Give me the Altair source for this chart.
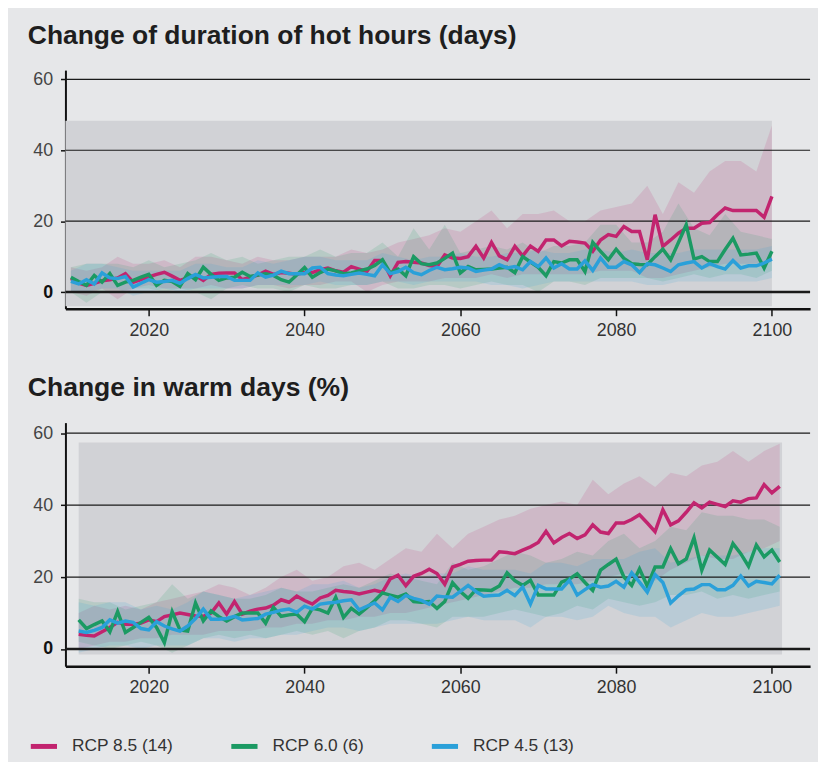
import altair as alt
import pandas as pd

FONT = "Liberation Sans"
SERIES = ["RCP 8.5 (14)", "RCP 6.0 (6)", "RCP 4.5 (13)"]
COLORS = ["#c2246f", "#1b9a63", "#2aa0d9"]

# ---------- Chart 1: change of duration of hot hours (days), years 2010-2100 ----------
hot_start = 2010
hot_rcp85 = [3.8, 2.5, 1.9, 2.5, 3.2, 3.5, 4.0, 5.2, 2.8, 3.5,
             4.3, 5.0, 5.6, 4.5, 3.3, 4.0, 4.7, 3.3, 5.0, 5.3,
             5.4, 5.4, 3.5, 4.2, 4.8, 5.9, 5.0, 5.5, 5.3, 5.0,
             5.5, 5.5, 6.3, 6.8, 6.0, 5.6, 7.2, 6.5, 5.8, 8.9,
             8.9, 4.6, 8.4, 8.6, 8.4, 8.2, 7.5, 7.2, 10.5, 9.6,
             9.5, 10.0, 12.9, 9.6, 14.0, 10.2, 9.1, 12.9, 10.2, 13.0,
             11.5, 14.7, 14.7, 13.0, 14.3, 14.1, 13.8, 11.5, 14.7, 16.2,
             15.7, 18.5, 17.1, 17.1, 9.1, 21.8, 12.9, 14.7, 16.6, 18.0,
             18.0, 19.4, 19.6, 21.8, 23.7, 23.0, 23.0, 23.0, 23.0, 21.1,
             27.0]
hot_rcp60 = [4.2, 3.0, 1.9, 4.7, 2.8, 5.2, 1.9, 2.8, 3.3, 4.2,
             5.0, 1.9, 3.3, 3.0, 1.6, 5.2, 3.5, 7.0, 5.0, 3.3,
             4.0, 4.2, 5.6, 4.4, 4.8, 5.2, 4.7, 3.5, 2.8, 4.8,
             6.9, 4.2, 5.5, 6.5, 6.0, 5.2, 5.4, 6.0, 6.5, 7.5,
             9.1, 5.4, 6.5, 4.6, 10.0, 8.0, 7.7, 8.2, 9.5, 11.0,
             5.4, 7.2, 6.3, 6.4, 6.5, 6.8, 7.0, 5.5, 10.0, 8.5,
             7.0, 4.6, 8.6, 8.2, 9.1, 9.1, 5.8, 14.0, 11.5, 9.1,
             12.1, 9.5, 8.0, 7.8, 7.7, 10.0, 12.1, 9.1, 14.0, 19.0,
             9.3, 10.0, 8.6, 8.6, 12.0, 15.2, 10.5, 10.7, 11.0, 6.8,
             11.5]
hot_rcp45 = [3.0, 2.3, 3.5, 2.3, 5.4, 4.0, 3.8, 4.4, 1.4, 2.5,
             3.5, 2.8, 3.0, 3.3, 2.5, 3.8, 5.0, 4.0, 4.2, 4.4,
             4.4, 3.3, 3.3, 3.3, 5.4, 4.2, 4.8, 5.9, 5.2, 5.2,
             5.2, 6.8, 7.0, 5.2, 4.8, 4.6, 5.0, 5.4, 5.0, 4.6,
             7.7, 5.2, 5.8, 7.0, 5.5, 4.9, 6.1, 7.0, 6.3, 6.6,
             7.0, 6.8, 5.8, 6.2, 6.5, 7.7, 6.8, 7.2, 6.3, 8.6,
             7.2, 9.6, 6.8, 8.0, 6.5, 6.5, 8.8, 6.1, 9.6, 7.0,
             7.0, 8.6, 7.7, 5.5, 8.0, 7.7, 6.8, 5.8, 7.7, 8.2,
             8.6, 6.8, 8.0, 7.2, 6.5, 8.9, 6.8, 7.4, 7.4, 8.2,
             9.3]
# model range bands, every second year from 2010
hot_band_start = 2010
hot_rcp85_lo = [0, -1, 1, -2, 1, 2, 1, 1, 1, 2, 1, 1, 2, 2, 1, 2, 2, 3, 3, 0, 2, 3, 3,
                3, 4, 4, 4, 5, 4, 5, 5, 5, 5, 5, 6, 6, 6, 4, 4, 5, 6, 7, 8, 8, 8, 9]
hot_rcp85_hi = [7, 6, 7, 10, 8, 8, 9, 7, 10, 10, 9, 8, 10, 9, 9, 10, 10, 10, 12, 11, 12, 14, 15,
                16, 18, 17, 20, 23, 18, 22, 22, 23, 20, 20, 23, 24, 25, 30, 22, 31, 28, 34, 37, 37, 34, 47]
hot_rcp60_lo = [0, -3, 0, 0, 1, 1, 0, 1, 0, -2, 1, 2, 1, 1, 0, 2, 1, 1, 2, 2, 3, 1, 1,
                2, 2, 1, 2, 3, 2, 2, 0, 3, 3, 2, 4, 4, 4, 4, 3, 4, 5, 4, 5, 5, 4, 6]
hot_rcp60_hi = [7, 8, 8, 8, 7, 9, 7, 8, 9, 11, 9, 10, 8, 9, 10, 10, 12, 10, 11, 11, 14, 10, 18,
                12, 19, 11, 12, 13, 12, 14, 11, 13, 13, 14, 19, 19, 14, 14, 17, 25, 18, 16, 22, 17, 16, 15]
hot_rcp45_lo = [0, 0, 1, 1, -1, 0, 1, 0, 1, 1, 1, 1, 2, 2, 2, 2, 3, 2, 2, 2, 3, 3, 2,
                3, 3, 3, 3, 2, 2, 1, 2, 3, 3, 3, 3, 3, 3, 2, 2, 3, 3, 3, 3, 3, 3, 4]
hot_rcp45_hi = [6, 8, 8, 7, 6, 6, 6, 6, 8, 8, 7, 7, 9, 8, 9, 10, 10, 9, 9, 9, 11, 10, 9,
                10, 10, 11, 10, 10, 11, 11, 12, 11, 11, 12, 12, 11, 12, 11, 11, 11, 12, 12, 12, 12, 12, 13]
hot_range = {"x1": [2009.3], "x2": [2100.0], "y1": [-4.0], "y2": [48.3]}

# ---------- Chart 2: change in warm days (%), years 2011-2101 ----------
warm_start = 2011
warm_rcp85 = [4.1, 3.8, 3.6, 4.8, 6.0, 7.4, 6.9, 6.9, 7.2,
              8.1, 7.6, 9.0, 9.5, 10.0, 9.6, 9.2, 9.1, 10.0, 12.8,
              9.7, 13.2, 9.7, 10.5, 11.1, 11.4, 12.2, 13.7, 13.0, 14.7,
              13.5, 12.5, 14.2, 14.9, 16.3, 16.0, 15.8, 15.3, 15.8, 16.3,
              15.8, 19.5, 20.5, 17.6, 20.2, 21.0, 22.2, 21.0, 18.0, 22.8,
              23.5, 24.4, 24.6, 24.7, 24.7, 27.0, 26.8, 26.5, 27.5, 28.4,
              29.6, 32.7, 29.5, 31.0, 32.1, 30.7, 31.7, 34.5, 32.5, 32.1,
              35.0, 35.0, 36.0, 37.3, 35.0, 32.6, 38.7, 34.5, 35.6, 38.0,
              40.6, 39.2, 40.8, 40.2, 39.6, 41.2, 40.8, 41.8, 42.0, 45.7,
              43.4, 45.2]
warm_rcp60 = [8.1, 5.7, 6.8, 7.8, 4.8, 10.4, 4.6, 6.0, 7.4,
              8.8, 6.0, 1.8, 10.4, 5.3, 5.0, 12.8, 7.8, 10.6, 9.0,
              7.8, 9.0, 10.0, 10.0, 10.0, 7.2, 11.6, 9.1, 9.5, 9.7,
              7.6, 11.3, 10.9, 10.0, 14.4, 8.8, 11.3, 9.7, 11.5, 13.4,
              15.6, 15.0, 14.4, 15.3, 13.2, 13.0, 13.2, 11.3, 13.2, 18.4,
              16.0, 14.1, 16.5, 16.4, 16.3, 17.5, 21.2, 19.0, 17.7, 19.1,
              15.0, 15.0, 15.0, 18.6, 19.5, 20.9, 18.5, 16.3, 21.9, 23.5,
              25.0, 20.0, 17.7, 22.3, 17.5, 22.8, 22.8, 27.9, 23.7, 25.0,
              30.9, 21.9, 27.5, 25.5, 23.5, 29.3, 26.5, 23.0, 28.9, 25.6,
              27.5, 24.2]
warm_rcp45 = [5.0, 4.6, 5.2, 6.0, 8.1, 7.2, 7.8, 7.4, 5.7,
              5.3, 7.6, 6.4, 5.6, 5.0, 6.4, 8.5, 11.1, 8.3, 8.3,
              8.5, 9.1, 8.1, 8.3, 8.5, 9.7, 10.2, 10.8, 11.1, 10.2,
              11.9, 11.1, 12.5, 12.8, 13.0, 13.4, 13.7, 10.9, 11.9, 12.8,
              10.9, 14.4, 13.2, 14.9, 14.1, 13.5, 12.5, 14.7, 14.5, 14.4,
              16.0, 17.7, 16.0, 14.7, 14.9, 15.0, 16.3, 14.9, 17.2, 12.5,
              17.7, 16.7, 16.7, 16.7, 19.1, 15.0, 16.5, 17.9, 17.2, 17.5,
              18.8, 17.2, 21.2, 18.6, 15.8, 20.7, 18.5, 12.8, 14.8, 16.5,
              16.7, 17.9, 17.9, 16.5, 16.5, 17.7, 20.3, 17.5, 18.8, 18.5,
              18.1, 20.5]
warm_band_start = 2011
warm_rcp85_lo = [0, 1, 2, 2, 3, 3, 4, 4, 4, 5, 5, 5, 6, 6, 7, 7, 8, 8, 9, 9, 10, 10, 11,
                 12, 13, 14, 15, 16, 17, 17, 18, 18, 18, 19, 20, 21, 20, 19, 22, 24, 26, 25, 25, 27, 28, 30]
warm_rcp85_hi = [10, 12, 11, 12, 11, 13, 14, 15, 16, 18, 17, 15, 17, 20, 22, 19, 20, 23, 24, 22, 25, 28, 27,
                 32, 28, 32, 34, 36, 37, 39, 40, 41, 40, 47, 43, 46, 48, 45, 49, 48, 51, 52, 55, 52, 55, 57]
warm_rcp60_lo = [2, 1, 0, 1, 2, 1, -1, 1, 3, 4, 3, 4, 3, 4, 5, 4, 5, 3, 5, 6, 8, 8, 7,
                 6, 9, 9, 9, 10, 11, 10, 9, 10, 12, 11, 14, 13, 12, 13, 15, 15, 16, 14, 15, 14, 15, 16]
warm_rcp60_hi = [14, 13, 13, 11, 12, 13, 18, 14, 16, 15, 14, 14, 15, 17, 16, 16, 17, 18, 17, 19, 21, 20, 19,
                 18, 24, 22, 23, 25, 27, 26, 24, 25, 27, 26, 30, 32, 28, 30, 34, 33, 38, 37, 37, 36, 36, 34]
warm_rcp45_lo = [-1, 0, 1, 1, 0, 1, 1, 1, 3, 3, 2, 3, 3, 4, 4, 5, 6, 6, 5, 6, 7, 7, 7,
                 7, 8, 9, 8, 8, 8, 6, 9, 9, 8, 9, 12, 10, 9, 9, 6, 8, 10, 9, 9, 10, 11, 12]
warm_rcp45_hi = [13, 12, 13, 13, 11, 12, 11, 13, 16, 15, 14, 15, 16, 17, 16, 18, 18, 19, 17, 18, 20, 21, 20,
                 21, 21, 23, 22, 22, 22, 21, 24, 24, 23, 25, 25, 25, 27, 28, 24, 25, 26, 26, 26, 27, 28, 28]
warm_range = {"x1": [2011.0], "x2": [2101.3], "y1": [-1.5], "y2": [57.4]}

X_TICKS = [2020, 2040, 2060, 2080, 2100]
Y_TICKS = [0, 20, 40, 60]
GRID = {"v": [20, 40, 60, 0], "w": [1.2, 1.2, 1.2, 2.6]}

for arr in (hot_rcp85, hot_rcp60, hot_rcp45, warm_rcp85, warm_rcp60, warm_rcp45):
    assert len(arr) == 91, len(arr)
for arr in (hot_rcp85_lo, hot_rcp85_hi, hot_rcp60_lo, hot_rcp60_hi, hot_rcp45_lo, hot_rcp45_hi,
            warm_rcp85_lo, warm_rcp85_hi, warm_rcp60_lo, warm_rcp60_hi, warm_rcp45_lo, warm_rcp45_hi):
    assert len(arr) == 46, len(arr)


def lines_frame(start, lists):
    rows = []
    for name, vals in zip(SERIES, lists):
        for i, v in enumerate(vals):
            rows.append({"year": start + i, "series": name, "value": v})
    return pd.DataFrame(rows)


def bands_frame(start, los, his):
    rows = []
    for name, lo, hi in zip(SERIES, los, his):
        for i, (a, b) in enumerate(zip(lo, hi)):
            rows.append({"year": start + 2 * i, "band": name, "lo": a, "hi": b})
    return pd.DataFrame(rows)


X_SCALE = alt.Scale(domain=[2009.3, 2104.9], nice=False, zero=False)
COLOR_SCALE = alt.Scale(domain=SERIES, range=COLORS)


def panel(title, lines_df, bands_df, range_df, ydomain, height, title_size):
    ys = alt.Scale(domain=ydomain, nice=False, zero=False)
    xax = alt.Axis(values=X_TICKS, format="d", title=None, grid=False,
                   domainColor="#111111", domainWidth=2.5, tickColor="#111111",
                   tickWidth=1.5, tickSize=7, labelFontSize=18, labelFont=FONT,
                   labelColor="#333333", labelPadding=6)
    yax = alt.Axis(values=Y_TICKS, title=None, grid=False,
                   domainColor="#111111", domainWidth=2, tickColor="#111111",
                   tickWidth=1.5, tickSize=5, labelFontSize=18, labelFont=FONT,
                   labelPadding=8,
                   labelColor=alt.condition("datum.value == 0", alt.value("#111111"), alt.value("#444444")),
                   labelFontWeight=alt.condition("datum.value == 0", alt.value("bold"), alt.value("normal")))
    rng = alt.Chart(pd.DataFrame(range_df)).mark_rect(color="#d1d2d6").encode(
        x=alt.X("x1:Q", scale=X_SCALE, axis=xax, title=None),
        x2="x2:Q",
        y=alt.Y("y1:Q", scale=ys, axis=yax, title=None),
        y2="y2:Q",
    )
    bands = alt.Chart(bands_df).mark_area(fillOpacity=0.14, strokeWidth=0).encode(
        x=alt.X("year:Q", title=None),
        y=alt.Y("lo:Q", title=None),
        y2="hi:Q",
        fill=alt.Fill("band:N", scale=COLOR_SCALE, legend=None),
        detail="band:N",
    )
    grid = alt.Chart(pd.DataFrame(GRID)).mark_rule(color="#1a1a1a").encode(
        y=alt.Y("v:Q", title=None),
        strokeWidth=alt.StrokeWidth("w:Q", scale=None),
    )
    lines = alt.Chart(lines_df).mark_line(strokeWidth=3.5).encode(
        x=alt.X("year:Q", title=None),
        y=alt.Y("value:Q", title=None),
        stroke=alt.Stroke("series:N", scale=COLOR_SCALE, sort=SERIES, legend=None),
    )
    return alt.layer(rng, bands, grid, lines).properties(
        width=752, height=height,
        title=alt.TitleParams(title, anchor="start", frame="group", dx=-38, offset=0,
                              fontSize=title_size, font=FONT, fontWeight="bold", color="#1e1e1e",
                              baseline="alphabetic"),
    )


top = panel("Change of duration of hot hours (days)",
            lines_frame(hot_start, [hot_rcp85, hot_rcp60, hot_rcp45]),
            bands_frame(hot_band_start, [hot_rcp85_lo, hot_rcp60_lo, hot_rcp45_lo],
                        [hot_rcp85_hi, hot_rcp60_hi, hot_rcp45_hi]),
            hot_range, [-4.7, 62.6], 241, 26.7)
bottom = panel("Change in warm days (%)",
               lines_frame(warm_start, [warm_rcp85, warm_rcp60, warm_rcp45]),
               bands_frame(warm_band_start, [warm_rcp85_lo, warm_rcp60_lo, warm_rcp45_lo],
                           [warm_rcp85_hi, warm_rcp60_hi, warm_rcp45_hi]),
               warm_range, [-4.77, 62.9], 246, 26.8)

# ---------- legend row ----------
legend_df = pd.DataFrame({"series": SERIES})
legend_x = alt.X("series:N", sort=SERIES, axis=None,
                 scale=alt.Scale(type="point", domain=SERIES, padding=0))
swatches = alt.Chart(legend_df).mark_point(
    shape="stroke", size=700, strokeWidth=5, filled=False, opacity=1, xOffset=-21.75
).encode(
    x=legend_x, y=alt.value(10),
    stroke=alt.Stroke("series:N", scale=COLOR_SCALE, legend=None),
)
labels = alt.Chart(legend_df).mark_text(
    align="left", baseline="middle", dx=6.7, fontSize=17.5, font=FONT, color="#333333"
).encode(x=legend_x, y=alt.value(10), text="series:N")
legend_row = alt.layer(swatches, labels).properties(width=405, height=20)

charts = alt.vconcat(top, bottom, spacing=36)
chart = alt.vconcat(charts, legend_row, spacing=40).properties(
    background="#e6e7e9",
    padding={"left": 13, "top": 11, "right": 6, "bottom": 2},
).configure_view(stroke=None)

chart.save("out.html", embed_options={"renderer": "svg", "actions": False})
